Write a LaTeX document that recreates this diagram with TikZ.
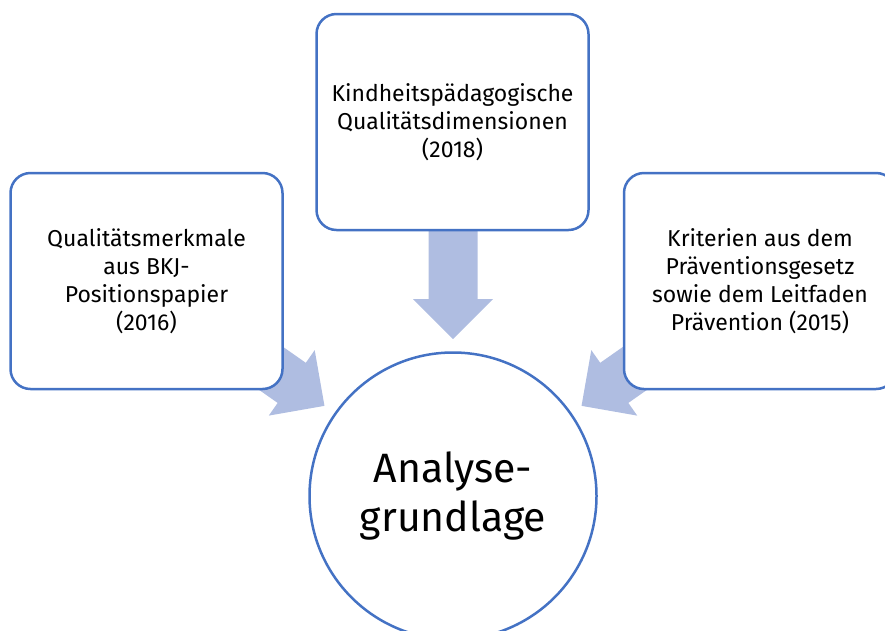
\documentclass[tikz,border=0pt]{standalone}
\usepackage{fontspec}
\setmainfont{Fira Sans}
\definecolor{boxline}{HTML}{4472C4}
\definecolor{arrowfill}{HTML}{AFBDE1}
\tikzset{
  satbox/.style={draw=boxline, line width=2.5pt, rounded corners=20pt, fill=white,
    minimum width=272pt, minimum height=216pt, align=center, inner sep=0pt,
    font=\fontsize{23}{28}\selectfont},
  hubcircle/.style={draw=boxline, line width=2.5pt, circle, fill=white,
    minimum size=287pt, align=center, inner sep=0pt,
    font=\fontsize{41}{49}\selectfont},
  blockarrow/.style={fill=arrowfill, draw=none}
}
\newcommand{\radarrow}[1]{%
  \begin{scope}[shift={(hub.center)}, rotate=#1]
    \fill[blockarrow] (157,0) -- (197,40) -- (197,24.5) -- (290,24.5) -- (290,-24.5) -- (197,-24.5) -- (197,-40) -- cycle;
  \end{scope}}
\begin{document}
\begin{tikzpicture}[x=1pt,y=-1pt]
\useasboundingbox (0,0) rectangle (885,630);
\clip (0,0) rectangle (885,630);
\node[hubcircle] (hub) at (453,496) {Analyse-\\grundlage};
\radarrow{90}
\radarrow{144.95}
\radarrow{35.05}
\node[satbox] (left) at (146.5,281) {Qualitätsmerkmale\\aus BKJ-\\Positionspapier\\(2016)};
\node[satbox] (top) at (452.5,122) {Kindheitspädagogische\\Qualitätsdimensionen\\(2018)};
\node[satbox] (right) at (760,281) {Kriterien aus dem\\Präventionsgesetz\\sowie dem Leitfaden\\Prävention (2015)};
\end{tikzpicture}
\end{document}
